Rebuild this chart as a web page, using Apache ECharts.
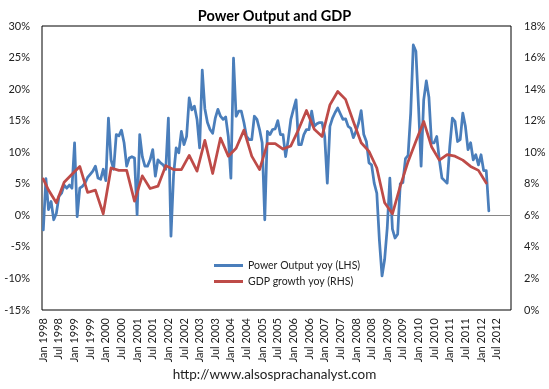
<!DOCTYPE html>
<html>
<head>
<meta charset="utf-8">
<script src="https://cdn.jsdelivr.net/npm/echarts@6/dist/echarts.min.js"></script>
<style>
html,body{margin:0;padding:0;background:#fff;}
#chart{width:549px;height:389px;}
</style>
</head>
<body>
<div id="chart"></div>
<script>
// Category axis: months Jan 1998 .. Dec 2012
var years = [1998,1999,2000,2001,2002,2003,2004,2005,2006,2007,2008,2009,2010,2011,2012];
var monthNames = ['Jan','Feb','Mar','Apr','May','Jun','Jul','Aug','Sep','Oct','Nov','Dec'];
var categories = [];
years.forEach(function(y){ monthNames.forEach(function(m){ categories.push(m + ' ' + y); }); });

// Power output yoy (%), monthly from Jan 1998 to Apr 2012 (LHS)
var powerValues = [
 -2.3, 5.8, 0.9, 2.2, -0.7, 0.3, 3.0, 3.5, 4.8, 4.3, 4.8, 4.3,
 11.5, -0.2, 4.3, 4.6, 5.1, 6.0, 6.5, 7.0, 7.8, 5.9, 5.7, 7.3,
 5.5, 15.4, 8.8, 7.3, 12.8, 12.6, 13.5, 11.5, 7.8, 9.1, 9.3, 9.1,
 0.1, 12.8, 9.3, 7.8, 7.8, 8.8, 10.4, 6.2, 8.8, 8.3, 8.0, 7.3,
 15.4, -3.3, 6.4, 10.7, 9.9, 13.3, 11.2, 12.5, 18.6, 16.7, 17.3, 15.2,
 10.7, 23.0, 16.9, 14.7, 13.6, 13.0, 15.4, 16.8, 15.7, 15.2, 15.6, 12.5,
 5.9, 24.9, 15.7, 16.5, 16.5, 14.7, 12.5, 12.0, 12.0, 15.7, 15.2, 13.6,
 11.5, -0.7, 13.3, 12.8, 13.6, 13.7, 15.0, 12.8, 12.8, 9.3, 12.0, 15.2,
 16.8, 18.3, 11.2, 11.2, 12.8, 13.6, 13.6, 16.5, 14.1, 14.5, 14.7, 14.7,
 12.5, 5.1, 14.1, 15.4, 16.3, 17.0, 16.1, 15.2, 15.3, 14.1, 13.8, 12.3,
 13.3, 14.6, 16.6, 12.8, 11.7, 8.3, 8.0, 5.1, 3.5, -4.0, -9.6, -7.0,
 -2.0, 5.9, -2.2, -3.6, -3.0, 5.0, 5.2, 9.0, 9.5, 16.2, 27.0, 26.0,
 17.3, 7.8, 18.3, 21.3, 18.7, 11.5, 11.5, 12.5, 8.8, 5.9, 5.5, 5.1,
 10.9, 15.4, 14.9, 11.7, 12.0, 16.2, 14.1, 10.4, 11.5, 8.8, 9.6, 8.0,
 9.6, 7.1, 7.1, 0.7
];

// GDP growth yoy (%), quarterly (RHS)
var gdpDates = ['Jan 1998'];
var gdpQuarterMonths = ['Mar','Jun','Sep','Dec'];
years.forEach(function(y){ gdpQuarterMonths.forEach(function(m){ gdpDates.push(m + ' ' + y); }); });
var gdpValues = [
 8.3,
 7.6, 6.8, 8.1, 8.6,
 9.1, 7.45, 7.6, 6.1,
 9.0, 8.85, 8.85, 6.9,
 8.5, 7.7, 7.85, 9.15,
 8.9, 8.9, 9.8, 8.8,
 10.75, 8.65, 10.9, 9.75,
 10.25, 11.4, 9.75, 8.9,
 10.55, 10.55, 10.2, 10.4,
 11.45, 12.65, 11.45, 11.0,
 13.0, 13.85, 13.35, 11.95,
 10.6, 10.05, 9.0, 6.8,
 6.1, 7.85, 9.4, 10.7,
 11.95, 10.35, 9.5, 9.85,
 9.75, 9.5, 9.1, 8.85,
 8.05
];

var leftTicks = {min: -15, max: 30, interval: 5};
var rightTicks = {min: 0, max: 18, interval: 2};

var powerData = categories.map(function(c, i){ return i < powerValues.length ? powerValues[i] : null; });
var gdpData = gdpValues.map(function(v, k){ return [gdpDates[k], v]; });

var FONT = 'Lato, "Liberation Sans", sans-serif';
var chart = echarts.init(document.getElementById('chart'), null, {renderer: 'canvas'});
var splitColors = [];
for (var k = leftTicks.min; k <= leftTicks.max; k += leftTicks.interval) splitColors.push(k === 0 ? '#868686' : 'rgba(0,0,0,0)');

chart.setOption({
  animation: false,
  backgroundColor: '#fff',
  title: {
    text: 'Power Output and GDP',
    left: 'center', top: 4,
    textStyle: {fontFamily: FONT, fontSize: 14.5, fontWeight: 'bold', color: '#000'}
  },
  grid: {left: 42, right: 38, top: 26, bottom: 79, show: true, borderColor: '#000', borderWidth: 1, backgroundColor: 'transparent'},
  legend: {
    orient: 'vertical', left: 209, top: 255,
    icon: 'rect', itemWidth: 29, itemHeight: 3, itemGap: 5,
    textStyle: {fontFamily: FONT, fontSize: 10.5, color: '#222'},
    data: ['Power Output yoy (LHS)', 'GDP growth yoy (RHS)']
  },
  xAxis: {
    type: 'category', data: categories, boundaryGap: true,
    axisLine: {show: false}, axisTick: {show: false},
    axisLabel: {interval: 5, rotate: 90, fontFamily: FONT, fontSize: 11, color: '#222', margin: 8}
  },
  yAxis: [
    {type: 'value', min: leftTicks.min, max: leftTicks.max, interval: leftTicks.interval, position: 'left',
     axisLine: {show: false}, axisTick: {show: false},
     axisLabel: {formatter: '{value}%', fontFamily: FONT, fontSize: 11, color: '#222', margin: 12},
     splitLine: {show: true, lineStyle: {color: splitColors, width: 1}}},
    {type: 'value', min: rightTicks.min, max: rightTicks.max, interval: rightTicks.interval, position: 'right',
     axisLine: {show: false}, axisTick: {show: false},
     axisLabel: {formatter: '{value}%', fontFamily: FONT, fontSize: 11, color: '#222', margin: 13},
     splitLine: {show: false}}
  ],
  series: [
    {name: 'Power Output yoy (LHS)', type: 'line', yAxisIndex: 0, data: powerData,
     showSymbol: false, symbol: 'none', color: '#4a7ebb',
     lineStyle: {width: 2.75, color: '#4a7ebb', join: 'round', cap: 'round'}},
    {name: 'GDP growth yoy (RHS)', type: 'line', yAxisIndex: 1, data: gdpData,
     showSymbol: false, symbol: 'none', color: '#be4b48', connectNulls: true,
     lineStyle: {width: 2.75, color: '#be4b48', join: 'round', cap: 'round'}}
  ],
  graphic: [{
    type: 'text', left: 'center', top: 368,
    style: {text: 'http://www.alsosprachanalyst.com', font: '13.5px ' + FONT, fill: '#222'}
  }]
});
</script>
</body>
</html>
